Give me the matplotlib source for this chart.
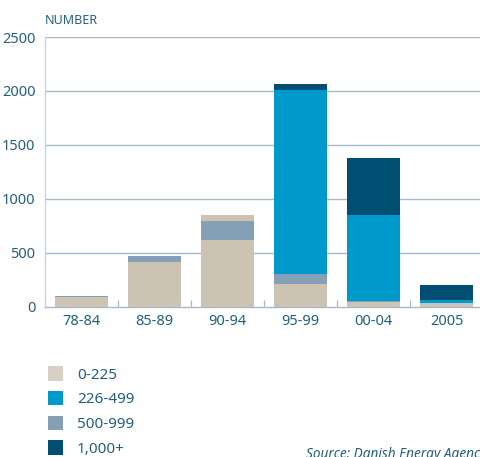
import matplotlib
matplotlib.use("Agg")
import matplotlib.pyplot as plt
from matplotlib.patches import Patch
import numpy as np

plt.rcParams['font.family'] = ['Noto Sans', 'DejaVu Sans']

periods = ["78-84", "85-89", "90-94", "95-99", "00-04", "2005"]
size_0_225 = [92, 420, 617, 216, 46, 33]
size_500_999 = [6, 48, 176, 92, 6, 0]
size_0_225_top = [0, 6, 62, 0, 0, 0]
size_226_499 = [0, 0, 0, 1698, 801, 28]
size_1000_plus = [0, 0, 0, 62, 530, 145]

legend_labels = ["0-225", "226-499", "500-999", "1,000+"]
y_ticks = [0, 500, 1000, 1500, 2000, 2500]

c_tan = "#cdc3b2"
c_blue = "#0099cc"
c_grey = "#85a0b5"
c_dark = "#004f73"
txt = "#23607f"
gridc = "#a7b9c8"

fig = plt.figure(figsize=(4.81, 4.57), dpi=100)
ax = fig.add_axes([45/481, 150/457, 438/481, 270/457])

x = np.arange(len(periods))
w = 0.726
stack = [(size_0_225, c_tan), (size_500_999, c_grey), (size_0_225_top, c_tan),
         (size_226_499, c_blue), (size_1000_plus, c_dark)]
bottom = np.zeros(len(periods))
for vals, col in stack:
    v = np.array(vals, dtype=float)
    ax.bar(x, v, w, bottom=bottom, color=col, linewidth=0, zorder=3)
    bottom += v

ax.set_xlim(-0.5, len(periods) - 0.5)
ax.set_ylim(0, 2500)
ax.set_yticks(y_ticks)
ax.set_yticklabels([str(t) for t in y_ticks])
ax.tick_params(axis='y', length=0, pad=7, labelsize=10.5, labelcolor=txt)

ax.set_xticks(x)
ax.set_xticklabels(periods)
ax.tick_params(axis='x', which='major', length=0, pad=5, labelsize=10.5, labelcolor=txt)
ax.set_xticks(x[:-1] + 0.5, minor=True)
ax.tick_params(axis='x', which='minor', length=5, width=0.9, color=gridc, direction='in')

for t in y_ticks[1:]:
    ax.axhline(t, color=gridc, linewidth=1.0, zorder=1)

for s in ['top', 'right']:
    ax.spines[s].set_visible(False)
ax.spines['left'].set_color("#c5d0d9")
ax.spines['left'].set_linewidth(0.9)
ax.spines['bottom'].set_color(gridc)
ax.spines['bottom'].set_linewidth(1.0)

fig.text(45/481, 1 - 20/457, "NUMBER", fontsize=9, color=txt, va='center', ha='left')

handles = [Patch(facecolor=c, edgecolor='none') for c in ["#d8d0c4", c_blue, c_grey, c_dark]]
fig.legend(handles, legend_labels, loc='upper left', bbox_to_anchor=(48/481, 1 - 366/457),
           frameon=False, fontsize=11, labelcolor=txt, handlelength=1.0, handleheight=1.1,
           labelspacing=0.54, handletextpad=0.9, borderpad=0, borderaxespad=0)

fig.text(306/481, 1 - 447/457, "Source: Danish Energy Agency", fontsize=9.8, style='italic',
         color=txt, va='top', ha='left')

fig.savefig("out.png", dpi=100)
